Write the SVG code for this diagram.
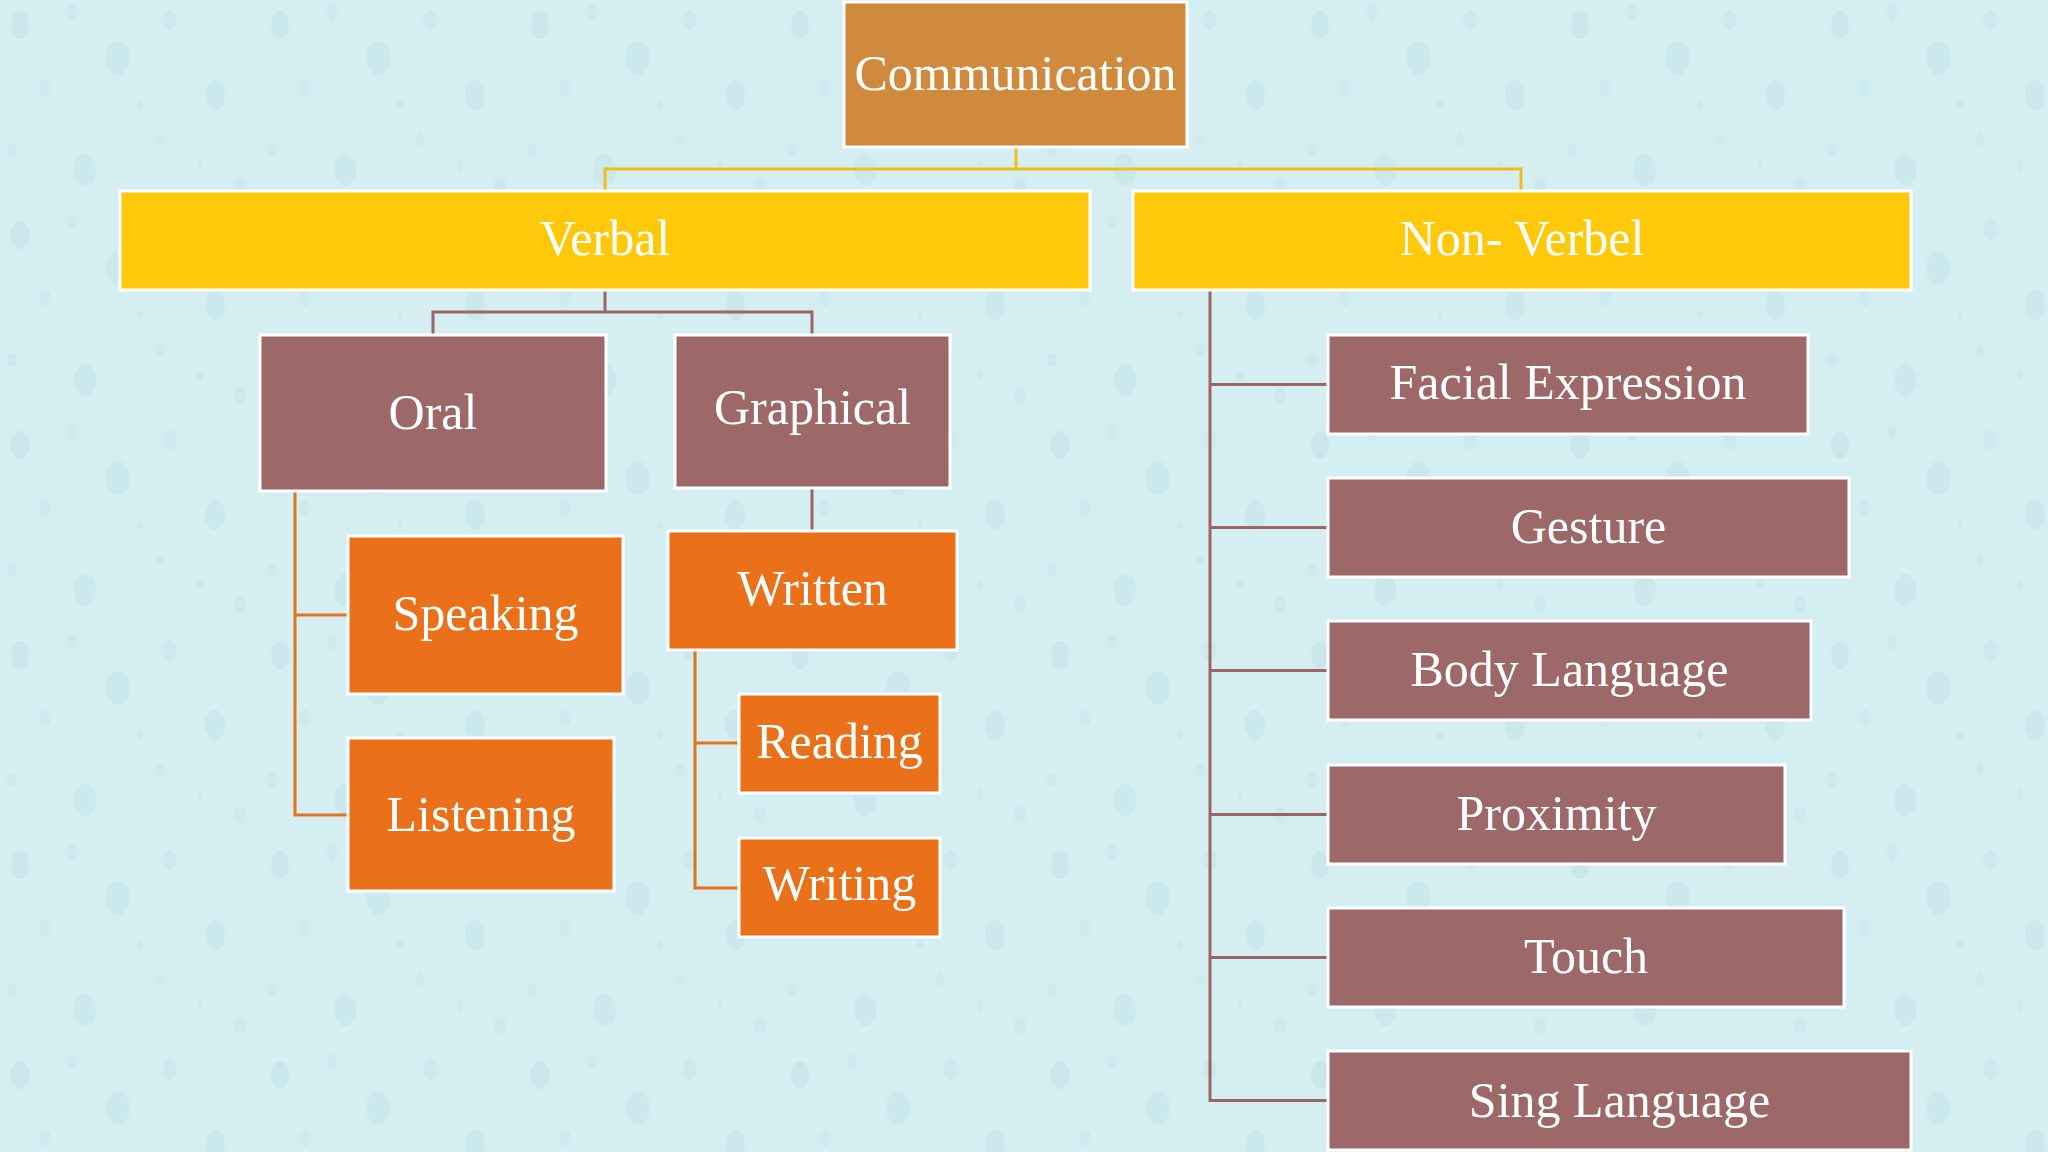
<svg xmlns="http://www.w3.org/2000/svg" width="2048" height="1152" viewBox="0 0 2048 1152">
<defs>
<pattern id="drops" x="0" y="0" width="260" height="210" patternUnits="userSpaceOnUse">
<ellipse cx="20" cy="25" rx="9" ry="14" fill="#bfdfe5" opacity="0.45"/>
<ellipse cx="72" cy="12" rx="5" ry="8" fill="#c2e2e8" opacity="0.4"/>
<ellipse cx="118" cy="58" rx="12" ry="17" fill="#bddee4" opacity="0.4"/>
<ellipse cx="45" cy="88" rx="6" ry="9" fill="#c4e3e9" opacity="0.4"/>
<ellipse cx="12" cy="150" rx="5" ry="7" fill="#c0e1e7" opacity="0.4"/>
<ellipse cx="170" cy="20" rx="7" ry="10" fill="#c3e2e8" opacity="0.4"/>
<ellipse cx="215" cy="95" rx="10" ry="15" fill="#bfdfe5" opacity="0.4"/>
<ellipse cx="160" cy="140" rx="4" ry="6" fill="#c3e2e8" opacity="0.4"/>
<ellipse cx="85" cy="170" rx="11" ry="16" fill="#bedfe5" opacity="0.4"/>
<ellipse cx="240" cy="185" rx="6" ry="9" fill="#c2e2e8" opacity="0.4"/>
<ellipse cx="200" cy="165" rx="3" ry="5" fill="#c2e2e8" opacity="0.4"/>
<ellipse cx="140" cy="105" rx="3" ry="4" fill="#c2e2e8" opacity="0.4"/>
</pattern>
<style>
.t{font-family:"Liberation Serif","Times New Roman",serif;font-size:50px;fill:#ffffff;text-anchor:middle}
.box{stroke:#ffffff;stroke-width:3}
.brown{fill:#9c6868}
.orange{fill:#ea7019}
.yellow{fill:#ffc90b}
.top{fill:#cf8a3d}
.cy{stroke:#edbf1a;stroke-width:3;fill:none}
.cb{stroke:#9c6464;stroke-width:3;fill:none}
.co{stroke:#e4701c;stroke-width:3;fill:none}
</style>
</defs>
<rect width="2048" height="1152" fill="#d4eef2"/>
<rect width="2048" height="1152" fill="url(#drops)"/>
<g id="connectors">
<path class="cy" d="M1016 147V169M605 191V169H1521V191"/>
<path class="cb" d="M605 290V312M433 335V312H812V335"/>
<path class="cb" d="M812 488V531"/>
<path class="co" d="M295 491V815H348M295 615H348"/>
<path class="co" d="M695 650V888H739M695 743H739"/>
<path class="cb" d="M1210 290V1100.5H1328M1210 384.5H1328M1210 527.5H1328M1210 670.5H1328M1210 814.5H1328M1210 957.5H1328"/>
</g>
<g id="communication"><rect class="box top" x="844" y="2" width="343" height="145"/><text class="t" x="1015.5" y="90">Communication</text></g>
<g id="verbal"><rect class="box yellow" x="120" y="191" width="970" height="99"/><text class="t" x="605" y="255">Verbal</text></g>
<g id="nonverbal"><rect class="box yellow" x="1133" y="191" width="778" height="99"/><text class="t" x="1522" y="255">Non- Verbel</text></g>
<g id="oral"><rect class="box brown" x="260" y="335" width="346" height="156"/><text class="t" x="433" y="429">Oral</text></g>
<g id="graphical"><rect class="box brown" x="675" y="335" width="275" height="153"/><text class="t" x="812.5" y="424">Graphical</text></g>
<g id="speaking"><rect class="box orange" x="348" y="536" width="275" height="158"/><text class="t" x="485.5" y="630">Speaking</text></g>
<g id="listening"><rect class="box orange" x="348" y="738" width="266" height="153"/><text class="t" x="481" y="831">Listening</text></g>
<g id="written"><rect class="box orange" x="668" y="531" width="289" height="119"/><text class="t" x="812.5" y="605">Written</text></g>
<g id="reading"><rect class="box orange" x="739" y="694" width="201" height="99"/><text class="t" x="839.5" y="758">Reading</text></g>
<g id="writing"><rect class="box orange" x="739" y="838" width="201" height="99"/><text class="t" x="839.5" y="900">Writing</text></g>
<g id="facial"><rect class="box brown" x="1328" y="335" width="480" height="99"/><text class="t" x="1568" y="399">Facial Expression</text></g>
<g id="gesture"><rect class="box brown" x="1328" y="478" width="521" height="99"/><text class="t" x="1588.5" y="543">Gesture</text></g>
<g id="body"><rect class="box brown" x="1328" y="621" width="483" height="99"/><text class="t" x="1569.5" y="686">Body Language</text></g>
<g id="proximity"><rect class="box brown" x="1328" y="765" width="457" height="99"/><text class="t" x="1556.5" y="830">Proximity</text></g>
<g id="touch"><rect class="box brown" x="1328" y="908" width="516" height="99"/><text class="t" x="1586" y="973">Touch</text></g>
<g id="sing"><rect class="box brown" x="1328" y="1051" width="583" height="99"/><text class="t" x="1619.5" y="1117">Sing Language</text></g>
</svg>
